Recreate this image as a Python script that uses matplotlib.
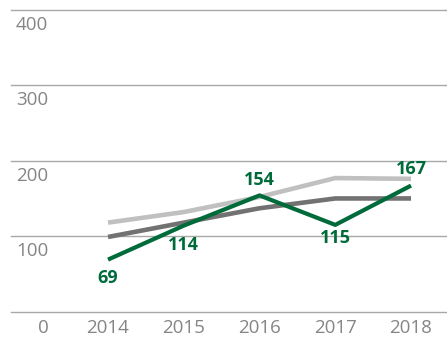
import matplotlib.pyplot as plt

plt.rcParams['font.family'] = ['Open Sans', 'DejaVu Sans']

years = [2014, 2015, 2016, 2017, 2018]
green_vals = [69, 114, 154, 115, 167]
dark_vals = [99, 118, 137, 150, 150]
light_vals = [118, 132, 152, 177, 176]
yticks = [100, 200, 300, 400]

# vertical offset of each value label (data units)
label_offsets = [-24, -25, 20, -17, 22]

green = "#006b3a"
txt_grey = "#858585"

fig = plt.figure(figsize=(4.47, 3.42), dpi=100)
ax = fig.add_axes([0, 0, 1, 1])
ax.set_xlim(2012.574, 2018.475)
ax.set_ylim(-40.1, 412.8)
ax.axis("off")

# gridlines
for t in [0] + yticks:
    ax.axhline(t, xmin=11 / 447, xmax=1, color="#a8a8a8", linewidth=1.0, zorder=1)

for t in yticks:
    ax.text(2012.574 + 16 / 75.75, t - 20, str(t), ha="left", va="center",
            fontsize=13.5, color=txt_grey)

ax.text(2012.574 + 43 / 75.75, -22, "0", ha="center", va="center", fontsize=13.5, color=txt_grey)
for y in years:
    ax.text(y, -22, str(y), ha="center", va="center", fontsize=13.5, color=txt_grey)

ax.plot(years, light_vals, color="#c0c0c0", linewidth=3.3, solid_capstyle="butt", zorder=2)
ax.plot(years, dark_vals, color="#727272", linewidth=3.3, solid_capstyle="butt", zorder=3)
ax.plot(years, green_vals, color=green, linewidth=3.0, solid_capstyle="butt", zorder=4)

for x, v, dy in zip(years, green_vals, label_offsets):
    ax.text(x, v + dy, str(v), ha="center", va="center", fontsize=13,
            fontweight="bold", color=green, zorder=5)

fig.savefig("out.png", dpi=100)
